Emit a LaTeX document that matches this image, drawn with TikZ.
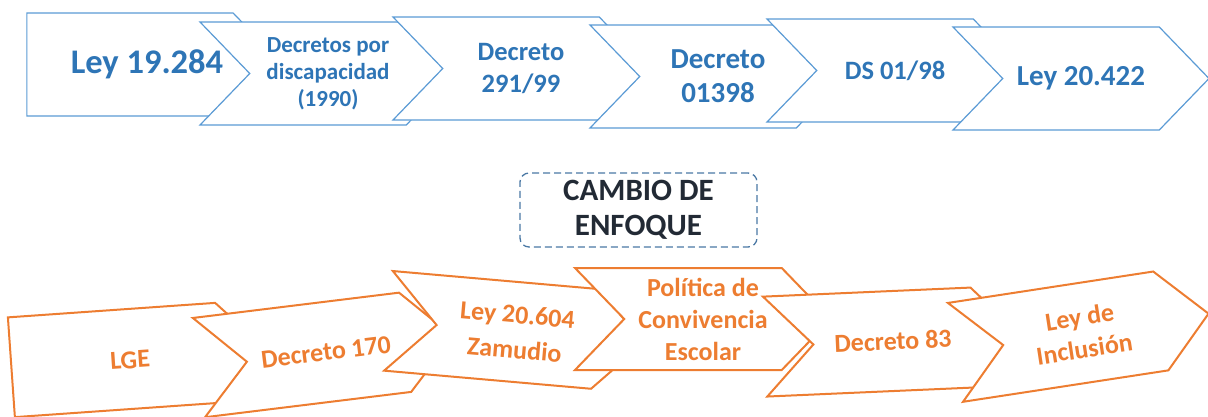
\documentclass[tikz,border=0pt]{standalone}
\usepackage{fontspec}
\setmainfont{Carlito}
\usetikzlibrary{shapes.symbols,positioning}
\definecolor{lineblue}{HTML}{5B9BD5}
\definecolor{textblue}{HTML}{2E75B6}
\definecolor{chevorange}{HTML}{ED7D31}
\definecolor{darktext}{HTML}{222A35}
\definecolor{dashblue}{HTML}{4A78A4}
\tikzset{
chevron/.style={
  signal, signal to=east, signal from=west,
  signal pointer angle=92,
  draw=lineblue, fill=white, line width=1.2pt,
  minimum width=256pt, minimum height=103pt,
  inner sep=0pt, align=center, text=textblue
  },
firstchev/.style={chevron, signal from=nowhere},
orchev/.style={chevron, draw=chevorange, text=chevorange,
  line width=2pt, minimum height=100pt},
cambio/.style={rectangle, rounded corners=9pt, draw=dashblue,
  dash pattern=on 7pt off 4pt, line width=1.3pt,
  minimum width=237pt, minimum height=74pt,
  align=center, text=darktext}
}
\newcommand{\chevfont}[2]{\fontsize{#1}{#2}\selectfont\bfseries}

\begin{document}
\begin{tikzpicture}[x=1pt,y=-1pt]
\useasboundingbox (0,0) rectangle (1208,416);

% top row
\node[firstchev] (ley19284) at (130,64.5) {};
\node[text=textblue,font=\chevfont{34.5}{40}] (ley19284txt) at ([xshift=17pt]ley19284.center) {Ley 19.284};
\node[chevron,font=\chevfont{23}{27}] (decdisc) at (328,73.5) {Decretos por\\discapacidad\\(1990)};
\node[chevron,font=\chevfont{26.5}{32}] (dec29199) at (521,68.5) {Decreto\\291/99};
\node[chevron,font=\chevfont{29}{34}] (dec01398) at (718,76.5) {Decreto\\01398};
\node[chevron,font=\chevfont{26.5}{32}] (ds0198) at (895,70.5) {DS 01/98};
\node[chevron,font=\chevfont{29}{34}] (ley20422) at (1081,78.5) {Ley 20.422};

% middle
\node[cambio,font=\chevfont{31}{35}] (enfoque) at (638.5,210) {CAMBIO DE\\ENFOQUE};

% bottom row
\node[orchev,signal from=nowhere,rotate=4] (lge) at (115,360) {};
\node[rotate=4,text=chevorange,font=\chevfont{26}{32}] (lgetxt) at ([xshift=15pt]lge.center) {LGE};
\node[orchev,rotate=7,font=\chevfont{26}{32}] (dec170) at (326,352) {Decreto 170};
\node[orchev,rotate=-5,font=\chevfont{26}{35}] (ley20604) at (516,332) {Ley 20.604\\Zamudio};
\node[orchev,minimum height=102pt,font=\chevfont{26}{32}] (convivencia) at (703,319) {Política de\\Convivencia\\Escolar};
\node[orchev,rotate=2.5,font=\chevfont{26}{32}] (dec83) at (893,341) {Decreto 83};
\node[orchev,rotate=8.7,font=\chevfont{26}{32}] (inclusion) at (1082,333) {Ley de\\Inclusión};

\end{tikzpicture}
\end{document}
